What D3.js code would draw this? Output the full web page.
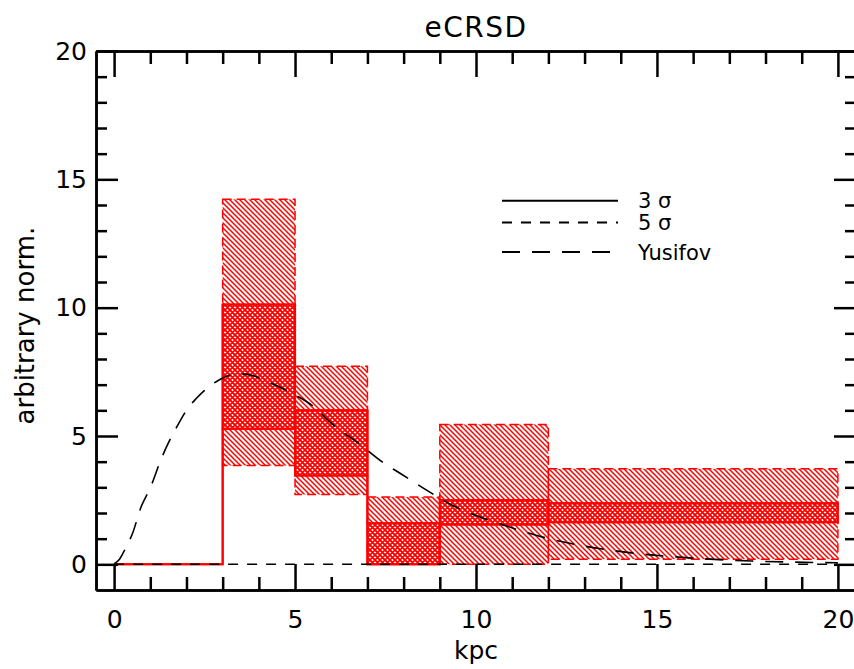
<!DOCTYPE html>
<html lang="en">

<head>
  <meta charset="UTF-8">
  <title>eCRSD</title>
  <script src="https://d3js.org/d3.v7.min.js"></script>
  <style>
    body {
      margin: 0;
      background: #fff;
    }

    text {
      font-family: "DejaVu Sans", sans-serif;
      fill: #000;
    }

    .axis path,
    .axis line {
      stroke: #000;
      stroke-width: 2.5px;
    }

    .axis text {
      font-size: 25px;
    }
  </style>
</head>

<body>

  <svg id="chart" width="854" height="669"></svg>

  <script>

    // bin edges (kpc) and the band limits for each bin
    var binEdges = [0, 3, 5, 7, 9, 12, 20];
    var sig5Hi = [0, 14.22, 7.72, 2.62, 5.45, 3.72];
    var sig5Lo = [0, 3.85, 2.72, 0, 0, 0.2];
    var sig3Hi = [0, 10.12, 6.0, 1.6, 2.5, 2.38];
    var sig3Lo = [0, 5.28, 3.46, 0, 1.55, 1.64];

    // Yusifov curve
    var yusX = [0, 0.15, 0.3, 0.5, 0.75, 1.0, 1.3, 1.5, 1.75, 2.0, 2.25, 2.5, 2.9, 3.2, 3.5, 3.8, 4.1, 4.6, 5.0, 5.5, 6.0, 6.8, 7.4, 7.9, 8.6, 9.4, 10.0, 10.7, 11.9, 13.0, 14.4, 15.8, 17.6, 19.5, 20];
    var yusY = [0.02, 0.2, 0.58, 1.17, 2.25, 2.98, 4.1, 4.73, 5.4, 6.0, 6.43, 6.78, 7.18, 7.37, 7.41, 7.37, 7.2, 6.89, 6.6, 6.16, 5.5, 4.67, 4.0, 3.55, 2.92, 2.26, 1.9, 1.56, 1.04, 0.71, 0.43, 0.26, 0.13, 0.07, 0.06];

    var xMajor = [0, 5, 10, 15, 20];
    var yMajor = [0, 5, 10, 15, 20];

    var legendLabels = ["3 \u03c3", "5 \u03c3", "Yusifov"];
    var legendDash = ["none", "10,9", "18,12"];

    var svg = d3.select("#chart");

    var x = d3.scaleLinear().domain([-0.5, 20.5]).range([96, 856]);
    var y = d3.scaleLinear().domain([-1, 20]).range([590, 51]);

    // hatch patterns
    var defs = svg.append("defs");

    var single = defs.append("pattern")
      .attr("id", "hatch")
      .attr("patternUnits", "userSpaceOnUse")
      .attr("width", 5).attr("height", 5);
    single.append("path")
      .attr("d", "M0,0L5,5M-1,4L1,6M4,-1L6,1")
      .attr("stroke", "#ff0000")
      .attr("stroke-width", 1.5);

    var cross = defs.append("pattern")
      .attr("id", "cross")
      .attr("patternUnits", "userSpaceOnUse")
      .attr("width", 5).attr("height", 5);
    cross.append("path")
      .attr("d", "M0,0L5,5M-1,4L1,6M4,-1L6,1M0,5L5,0M-1,1L1,-1M4,6L6,4")
      .attr("stroke", "#ff0000")
      .attr("stroke-width", 1.6);

    var bins = d3.range(binEdges.length - 1).map(function (i) {
      return { x0: binEdges[i], x1: binEdges[i + 1], lo5: sig5Lo[i], hi5: sig5Hi[i], lo3: sig3Lo[i], hi3: sig3Hi[i] };
    });

    // 5 sigma boxes
    svg.append("g").selectAll("rect")
      .data(bins.filter(function (d) { return d.hi5 > d.lo5; }))
      .enter().append("rect")
      .attr("x", function (d) { return x(d.x0); })
      .attr("width", function (d) { return x(d.x1) - x(d.x0); })
      .attr("y", function (d) { return y(d.hi5); })
      .attr("height", function (d) { return y(d.lo5) - y(d.hi5); })
      .attr("fill", "url(#hatch)")
      .attr("stroke", "#ff0000")
      .attr("stroke-width", 1.5)
      .attr("stroke-dasharray", "9,5");

    // 3 sigma boxes
    svg.append("g").selectAll("rect")
      .data(bins.filter(function (d) { return d.hi3 > d.lo3; }))
      .enter().append("rect")
      .attr("x", function (d) { return x(d.x0); })
      .attr("width", function (d) { return x(d.x1) - x(d.x0); })
      .attr("y", function (d) { return y(d.hi3); })
      .attr("height", function (d) { return y(d.lo3) - y(d.hi3); })
      .attr("fill", "url(#cross)")
      .attr("stroke", "#ff0000")
      .attr("stroke-width", 2);

    // 3 sigma step outlines
    function steps(vals) {
      var pts = [];
      vals.forEach(function (v, i) {
        pts.push([binEdges[i], v]);
        pts.push([binEdges[i + 1], v]);
      });
      return pts;
    }
    var stepLine = d3.line()
      .x(function (d) { return x(d[0]); })
      .y(function (d) { return y(d[1]); });

    [sig3Lo, sig3Hi].forEach(function (vals) {
      svg.append("path")
        .attr("d", stepLine(steps(vals)))
        .attr("fill", "none")
        .attr("stroke", "#ff0000")
        .attr("stroke-width", 2);
    });

    // zero line
    svg.append("line")
      .attr("x1", x(0)).attr("x2", x(20))
      .attr("y1", y(0)).attr("y2", y(0))
      .attr("stroke", "#000")
      .attr("stroke-width", 1.5)
      .attr("stroke-dasharray", "10,9");

    // Yusifov model
    var curve = d3.line()
      .x(function (d, i) { return x(yusX[i]); })
      .y(function (d) { return y(d); })
      .curve(d3.curveMonotoneX);

    svg.append("path")
      .attr("d", curve(yusY))
      .attr("fill", "none")
      .attr("stroke", "#000")
      .attr("stroke-width", 1.6)
      .attr("stroke-dasharray", "18,12");

    // axes: major and minor ticks point inward on all four sides
    var xMinor = d3.range(0, 21).filter(function (v) { return v % 5 != 0; });
    var yMinor = d3.range(0, 21).filter(function (v) { return v % 5 != 0; });

    svg.append("g").attr("class", "axis")
      .attr("transform", "translate(0," + y(-1) + ")")
      .call(d3.axisBottom(x).tickValues(xMajor).tickSizeInner(-26).tickSizeOuter(0).tickPadding(20).tickFormat(d3.format("d")));
    svg.append("g").attr("class", "axis")
      .attr("transform", "translate(0," + y(-1) + ")")
      .call(d3.axisBottom(x).tickValues(xMinor).tickSizeInner(-13).tickSizeOuter(0).tickFormat(""));

    svg.append("g").attr("class", "axis")
      .attr("transform", "translate(0," + y(20) + ")")
      .call(d3.axisTop(x).tickValues(xMajor).tickSizeInner(-26).tickSizeOuter(0).tickFormat(""));
    svg.append("g").attr("class", "axis")
      .attr("transform", "translate(0," + y(20) + ")")
      .call(d3.axisTop(x).tickValues(xMinor).tickSizeInner(-13).tickSizeOuter(0).tickFormat(""));

    svg.append("g").attr("class", "axis")
      .attr("transform", "translate(" + x(-0.5) + ",0)")
      .call(d3.axisLeft(y).tickValues(yMajor).tickSizeInner(-22).tickSizeOuter(0).tickPadding(9).tickFormat(d3.format("d")));
    svg.append("g").attr("class", "axis")
      .attr("transform", "translate(" + x(-0.5) + ",0)")
      .call(d3.axisLeft(y).tickValues(yMinor).tickSizeInner(-11).tickSizeOuter(0).tickFormat(""));

    svg.append("g").attr("class", "axis")
      .attr("transform", "translate(" + x(20.5) + ",0)")
      .call(d3.axisRight(y).tickValues(yMajor).tickSizeInner(-22).tickSizeOuter(0).tickFormat(""));
    svg.append("g").attr("class", "axis")
      .attr("transform", "translate(" + x(20.5) + ",0)")
      .call(d3.axisRight(y).tickValues(yMinor).tickSizeInner(-11).tickSizeOuter(0).tickFormat(""));

    // titles
    svg.append("text")
      .attr("x", x(10)).attr("y", 37)
      .attr("text-anchor", "middle")
      .style("font-size", "28px")
      .style("letter-spacing", "1.5px")
      .text("eCRSD");

    svg.append("text")
      .attr("x", x(10)).attr("y", 659)
      .attr("text-anchor", "middle")
      .style("font-size", "25px")
      .text("kpc");

    svg.append("text")
      .attr("transform", "translate(34," + y(9.3) + ") rotate(-90)")
      .attr("text-anchor", "middle")
      .style("font-size", "26px")
      .text("arbitrary norm.");

    // legend
    var legendY = [200.7, 222.5, 252];
    var legend = svg.append("g").selectAll("g")
      .data(legendLabels)
      .enter().append("g");

    legend.append("line")
      .attr("x1", 502).attr("x2", 618)
      .attr("y1", function (d, i) { return legendY[i]; })
      .attr("y2", function (d, i) { return legendY[i]; })
      .attr("stroke", "#000")
      .attr("stroke-width", 2)
      .attr("stroke-dasharray", function (d, i) { return legendDash[i]; });

    legend.append("text")
      .attr("x", 638)
      .attr("y", function (d, i) { return legendY[i]; })
      .attr("dy", "0.36em")
      .style("font-size", "21px")
      .text(function (d) { return d; });

  </script>

</body>

</html>
